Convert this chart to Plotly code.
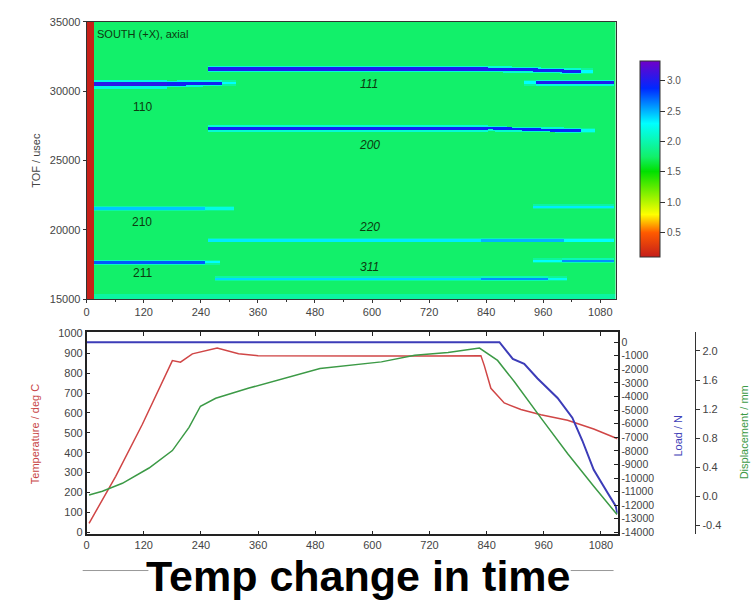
import numpy as np
import plotly.graph_objects as go

W, H = 751, 602

# ---------------- top panel: intensity map ----------------
time_bins = list(range(0, 1115, 5))          # time axis cells (centres at +2.5)
tof_bins = list(range(15000, 35001, 50))     # TOF axis cells

# (tof_from, tof_to, value)
background_bands = [
    (15000, 15350, 1.95),
    (15350, 35001, 1.75),
]
start_strip = (0, 13, 0.12)  # (t_from, t_to, value)

# (t_from, t_to, tof_start, tof_end, width, value)
peak_segments = [
    (0, 170, 30470, 30470, 420, 3.05),     # 110
    (170, 285, 30500, 30560, 300, 2.95),
    (285, 315, 30560, 30560, 250, 2.30),
    (255, 843, 31585, 31585, 290, 3.00),   # 111
    (843, 1038, 31585, 31420, 260, 2.95),
    (1038, 1065, 31420, 31420, 250, 2.30),
    (920, 945, 30600, 30600, 250, 2.30),   # 110 (return)
    (945, 1112, 30600, 30600, 290, 3.00),
    (255, 843, 27300, 27300, 260, 2.95),   # 200
    (843, 1038, 27300, 27140, 230, 2.90),
    (1038, 1070, 27140, 27140, 220, 2.25),
    (0, 250, 21520, 21520, 230, 2.45),     # 210
    (250, 310, 21520, 21520, 200, 2.20),
    (940, 1112, 21640, 21640, 210, 2.35),
    (257, 828, 19220, 19220, 210, 2.35),   # 220
    (828, 1003, 19220, 19220, 210, 2.50),
    (1003, 1112, 19220, 19220, 210, 2.30),
    (0, 250, 17640, 17640, 230, 2.75),     # 211
    (250, 280, 17640, 17640, 200, 2.30),
    (940, 1000, 17760, 17760, 200, 2.30),
    (1000, 1112, 17760, 17760, 210, 2.60),
    (270, 828, 16460, 16460, 210, 2.40),   # 311
    (828, 970, 16460, 16460, 210, 2.60),
    (970, 1010, 16460, 16460, 200, 2.25),
]

# reflection labels: (text, time, tof, italic)
reflection_labels = [
    ("110", 117, 28850, False),
    ("111", 594, 30480, True),
    ("200", 594, 26100, True),
    ("210", 117, 20520, False),
    ("220", 594, 20160, True),
    ("211", 117, 16900, False),
    ("311", 594, 17330, True),
]

colorbar_ticks = [0.5, 1.0, 1.5, 2.0, 2.5, 3.0]
z_min, z_max = 0.1, 3.33

# ---------------- bottom panel: process log ----------------
time_temp = [5, 61, 117, 152, 180, 197, 222, 274, 319, 360, 480, 600, 720, 828, 835, 849, 877, 912, 954, 1010, 1065, 1115]
temperature = [45, 281, 543, 724, 863, 855, 897, 926, 897, 888, 886, 886, 886, 888, 839, 724, 650, 617, 591, 563, 519, 470]

time_load = [0, 300, 600, 867, 884, 895, 919, 947, 989, 1020, 1041, 1065, 1094, 1111, 1115]
load = [0, 0, 0, 0, -745, -1230, -1590, -2670, -4110, -5560, -7240, -9400, -11090, -12050, -12630]

time_disp = [5, 33, 75, 131, 180, 215, 239, 271, 341, 410, 490, 619, 689, 759, 825, 863, 898, 954, 1010, 1065, 1114]
displacement = [0.02, 0.07, 0.18, 0.39, 0.63, 0.95, 1.24, 1.35, 1.49, 1.62, 1.76, 1.85, 1.94, 1.98, 2.04, 1.87, 1.58, 1.08, 0.59, 0.14, -0.25]

time_ticks = list(range(0, 1081, 120))
temp_ticks = list(range(0, 1001, 100))
load_ticks = list(range(0, -14001, -1000))
disp_ticks = [2.0, 1.6, 1.2, 0.8, 0.4, 0.0, -0.4]
tof_ticks = [15000, 20000, 25000, 30000, 35000]

# ---------------- build map ----------------
tc = np.array(time_bins) + 2.5
yc = np.array(tof_bins, dtype=float)
Z = np.zeros((len(yc), len(tc)))
for lo, hi, v in background_bands:
    Z[(yc >= lo) & (yc < hi), :] = v
bg = Z.copy()
for t0, t1, f0, f1, w, v in peak_segments:
    cols = np.where((tc >= t0) & (tc < t1))[0]
    for c in cols:
        frac = (tc[c] - t0) / max(t1 - t0, 1)
        centre = f0 + (f1 - f0) * frac
        d = np.abs(yc - centre)
        core = d <= w * 0.4
        edge = (d > w * 0.4) & (d <= w * 0.8)
        Z[core, c] = np.maximum(Z[core, c], v)
        Z[edge, c] = np.maximum(Z[edge, c], (v + 2 * bg[edge, c]) / 3)
s0, s1, sv = start_strip
Z[:, (tc >= s0) & (tc < s1)] = sv

def nz(v):
    return (v - z_min) / (z_max - z_min)

colorscale = [
    [0.0, "#c41e1a"],
    [nz(0.5), "#ff5a00"],
    [nz(0.8), "#ffff00"],
    [nz(1.51), "#00e000"],
    [nz(1.75), "#12f06a"],
    [nz(2.3), "#00ffff"],
    [nz(2.88), "#0028ff"],
    [1.0, "#7000c8"],
]

FONT = "Liberation Sans"

fig = go.Figure()
fig.add_trace(go.Heatmap(
    x=tc, y=yc, z=Z, zmin=z_min, zmax=z_max, colorscale=colorscale,
    xaxis="x", yaxis="y", hoverinfo="skip",
    colorbar=dict(
        x=640 / W, xanchor="left", y=1 - 56 / H, yanchor="top",
        len=196, lenmode="pixels", thickness=20, thicknessmode="pixels",
        outlinewidth=1, outlinecolor="#333", xpad=0, ypad=0,
        tickvals=colorbar_ticks, tickformat=".1f", ticks="outside", ticklen=5,
        tickcolor="#333", tickfont=dict(size=10, color="#555", family=FONT),
    ),
))

fig.add_trace(go.Scatter(x=time_temp, y=temperature, mode="lines",
                         line=dict(color="#d04646", width=1.5), xaxis="x2", yaxis="y2", showlegend=False))
fig.add_trace(go.Scatter(x=time_disp, y=displacement, mode="lines",
                         line=dict(color="#3c9a46", width=1.5), xaxis="x2", yaxis="y4", showlegend=False))
fig.add_trace(go.Scatter(x=time_load, y=load, mode="lines",
                         line=dict(color="#3c3cb8", width=2), xaxis="x2", yaxis="y3", showlegend=False))

tickfont = dict(size=11, color="#444", family=FONT)

annotations = []
for txt, t, f, it in reflection_labels:
    annotations.append(dict(
        x=t, y=f, xref="x", yref="y", text=(f"<i>{txt}</i>" if it else txt), showarrow=False,
        xanchor="center", yanchor="middle",
        font=dict(size=12, color="#0c3a10", family=FONT),
    ))
annotations.append(dict(x=92 / W, y=1 - 29 / H, xref="paper", yref="paper", xanchor="left", yanchor="middle",
                        text="SOUTH (+X), axial", showarrow=False,
                        font=dict(size=11, color="#0c3a10", family=FONT)))
side_titles = [
    ("TOF / usec", 33, 157, "#444"),
    ("Temperature / deg C", 32, 437, "#c84646"),
    ("Load / N", 678, 438, "#4040b8"),
    ("Displacement / mm", 744, 435, "#3c9a46"),
]
for txt, px, py, col in side_titles:
    annotations.append(dict(x=px / W, y=1 - py / H, xref="paper", yref="paper", text=txt,
                            xanchor="center", yanchor="middle", textangle=-90, showarrow=False,
                            font=dict(size=11, color=col, family=FONT)))
annotations.append(dict(x=357 / W, y=1 - 555 / H, xref="paper", yref="paper", xanchor="center", yanchor="top",
                        text="<b>Temp change in time</b>", showarrow=False,
                        font=dict(size=43, color="black", family=FONT)))

fig.update_layout(
    width=W, height=H, margin=dict(l=0, r=0, t=0, b=0),
    paper_bgcolor="white", plot_bgcolor="white", showlegend=False,
    xaxis=dict(domain=[84 / W, 615 / W], range=[0, 1112], anchor="y",
               tickvals=time_ticks, ticktext=[str(v) for v in time_ticks],
               ticks="outside", ticklen=3, tickcolor="#333",
               minor=dict(tickvals=list(range(60, 1100, 120)), ticks="outside", ticklen=2, tickcolor="#333"),
               showline=True, linecolor="#333", linewidth=1, mirror=True, showgrid=False, zeroline=False,
               tickfont=tickfont),
    yaxis=dict(domain=[1 - 299 / H, 1 - 16 / H], range=[15000, 35000], anchor="x",
               tickvals=tof_ticks, ticktext=[str(v) for v in tof_ticks],
               ticks="outside", ticklen=3, tickcolor="#333",
               showline=True, linecolor="#333", linewidth=1, mirror=True, showgrid=False, zeroline=False,
               tickfont=tickfont),
    xaxis2=dict(domain=[84 / W, 617 / W], range=[0, 1115], anchor="y2",
                tickvals=time_ticks, ticktext=[str(v) for v in time_ticks],
                ticks="inside", ticklen=4, tickcolor="#222",
                showline=True, linecolor="#222", linewidth=1.5, mirror="ticks", showgrid=False, zeroline=False,
                tickfont=tickfont),
    yaxis2=dict(domain=[1 - 539 / H, 1 - 333 / H], range=[-10, 1005], anchor="x2",
                tickvals=temp_ticks, ticktext=[str(v) for v in temp_ticks],
                ticks="inside", ticklen=4, tickcolor="#222",
                showline=True, linecolor="#222", linewidth=1.5, showgrid=False, zeroline=False,
                tickfont=tickfont),
    yaxis3=dict(overlaying="y2", side="right", anchor="x2", range=[-14141, 721],
                tickvals=load_ticks, ticktext=[str(v) for v in load_ticks], ticks="inside", ticklen=4,
                tickcolor="#222", showline=True, linecolor="#222", linewidth=1.5, showgrid=False,
                zeroline=False, tickfont=dict(size=10.5, color="#444", family=FONT)),
    yaxis4=dict(overlaying="y2", side="right", anchor="free", position=695 / W, range=[-0.521, 2.256],
                tickvals=disp_ticks, ticktext=[f"{v:.1f}" for v in disp_ticks], ticks="outside", ticklen=4,
                tickcolor="#333", showline=True, linecolor="#333", linewidth=1, showgrid=False,
                zeroline=False, tickfont=tickfont),
    annotations=annotations,
    shapes=[
        dict(type="line", xref="paper", yref="paper", x0=80 / W, x1=146 / W,
             y0=1 - 576 / H, y1=1 - 576 / H, line=dict(color="#999", width=1), layer="below"),
        dict(type="line", xref="paper", yref="paper", x0=570 / W, x1=613 / W,
             y0=1 - 576 / H, y1=1 - 576 / H, line=dict(color="#999", width=1), layer="below"),
    ],
)

fig.write_html("out.html", config={"displayModeBar": False},
               post_script="document.body.style.margin='0';document.body.style.overflow='hidden';")
